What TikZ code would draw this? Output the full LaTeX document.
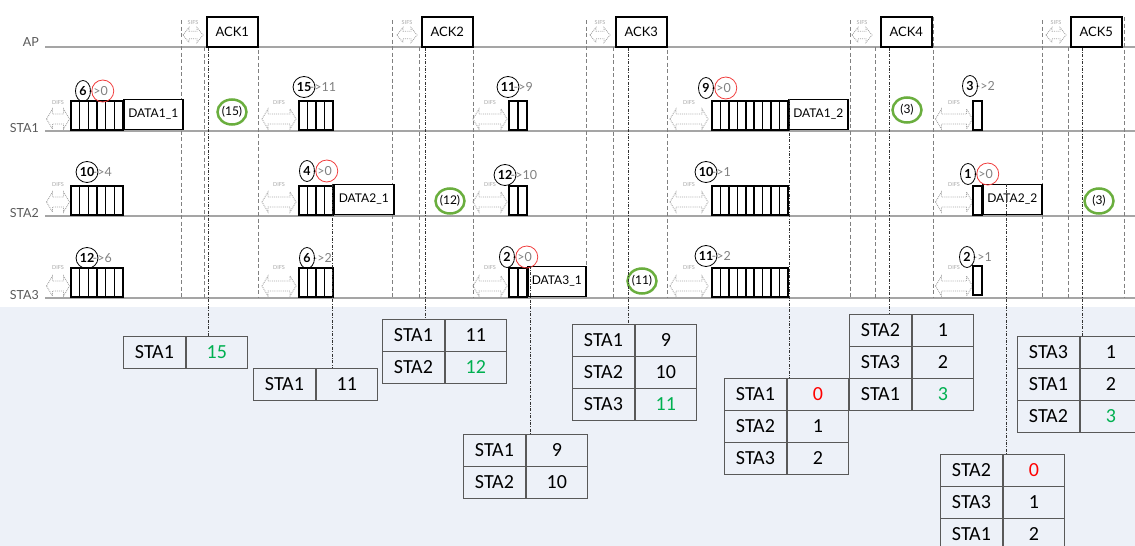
\documentclass[tikz,border=0pt]{standalone}
\usepackage{fontspec}
\setmainfont{Lato}
\newfontfamily\tabfont{Carlito}
\usetikzlibrary{calc,shapes.geometric}

\definecolor{bgblue}{HTML}{EDF1F8}
\definecolor{lanegray}{HTML}{A5A5A5}
\definecolor{lblgray}{HTML}{595959}
\definecolor{markgray}{HTML}{A6A6A6}
\definecolor{guidegray}{HTML}{808080}
\definecolor{nextgray}{HTML}{808080}
\definecolor{ringgreen}{HTML}{6AAE3E}
\definecolor{valgreen}{HTML}{00B050}
\definecolor{valred}{HTML}{FF0000}
\definecolor{ringred}{HTML}{F03C3C}
\definecolor{tabline}{HTML}{595959}

\tikzset{
  lane/.style={draw=lanegray, line width=1.1pt},
  lanelbl/.style={font=\fontsize{12.5}{12.5}\selectfont, text=lblgray, anchor=east, inner sep=0},
  frame/.style={draw=black, line width=1.5pt, fill=white},
  ackbox/.style={frame, minimum width=51, minimum height=30, inner sep=0,
    font=\fontsize{13}{13}\selectfont},
  databox/.style={frame, minimum height=30, inner sep=0, font=\fontsize{12}{12}\selectfont},
  slotbox/.style={draw=black, line width=1.5pt, fill=white},
  cnt/.style={ellipse, draw=black, line width=0.8pt, inner sep=0.5pt, minimum width=15,
    minimum height=21, font=\bfseries\fontsize{12.5}{12.5}\selectfont},
  cntnext/.style={anchor=west, inner sep=0, text=nextgray, font=\fontsize{12.5}{12.5}\selectfont},
  redring/.style={circle, draw=ringred, line width=0.8pt, minimum size=22, inner sep=0},
  greenring/.style={ellipse, draw=ringgreen, line width=2.5pt, minimum width=29,
    minimum height=25, inner sep=0, font=\fontsize{12}{12}\selectfont},
  ifsline/.style={draw=markgray, densely dotted, line width=0.9pt},
  ifstag/.style={text=markgray, font=\fontsize{5.5}{5.5}\selectfont, inner sep=0},
  guide/.style={draw=guidegray, dash pattern=on 4pt off 2.5pt, line width=0.8pt},
  dropline/.style={draw=black!80, dash pattern=on 3pt off 1.5pt on 0.8pt off 1.5pt, line width=0.7pt},
  cell/.style={draw=tabline, line width=0.9pt, fill=bgblue, minimum height=32, inner sep=0,
    font=\tabfont\fontsize{20}{20}\selectfont},
  pics/ifsmark/.style 2 args={code={
    \draw[ifsline] (-#1/2,0) -- (-#1/2+6,-#2/2) -- (-#1/2+6,-#2/4) -- (#1/2-6,-#2/4)
      -- (#1/2-6,-#2/2) -- (#1/2,0) -- (#1/2-6,#2/2) -- (#1/2-6,#2/4)
      -- (-#1/2+6,#2/4) -- (-#1/2+6,#2/2) -- cycle;
  }},
}

% register table: name, x, y of top-left corner, rows label/value/colour
\newcommand\regtable[4]{%
  \foreach \lab/\val/\col [count=\i] in {#4} {
    \node[cell, minimum width=62, anchor=north west] (#1-\i-l) at (#2,{#3+(\i-1)*32}) {\lab};
    \node[cell, minimum width=61, anchor=north west, text=\col] (#1-\i-v) at (#1-\i-l.north east) {\val};
  }}
% run of backoff slots: x start, bottom y, count, slot width
\newcommand\slotrun[4]{%
  \foreach \k in {1,...,#3} {
    \draw[slotbox] ({#1+(\k-1)*#4},#2) rectangle ({#1+\k*#4},{#2-29});
  }}
% backoff counter: name, x, y, start value, remaining text
\newcommand\backoff[5]{%
  \node[cntnext] (#1n) at ($(#2,#3)+(5.5,0)$) {#5};
  \node[cnt] (#1) at (#2,#3) {#4};}
\newcommand\expire[1]{\node[redring] (#1r) at ([xshift=4.5]#1n.center) {};}

\begin{document}
\begin{tikzpicture}[x=1pt, y=-1pt]
\useasboundingbox (0,0) rectangle (1135,546);
\fill[bgblue] (0,307) rectangle (1135,546);

% lanes
\draw[lane] (45,47) -- (1135,47);
\draw[lane] (45,131) -- (1135,131);
\draw[lane] (45,216) -- (1135,216);
\draw[lane] (45,298) -- (1135,298);
\node[lanelbl] (lAP) at (39,42) {AP};
\node[lanelbl] (lS1) at (39,128) {STA1};
\node[lanelbl] (lS2) at (39,213) {STA2};
\node[lanelbl] (lS3) at (39,295) {STA3};

% SIFS / ACK guides
\foreach \sl/\al/\ar in {181/204/258, 392/419/473, 586/613/667, 850/875/933, 1042/1068/1124} {
  \draw[guide] (\sl,20) -- (\sl,298);
  \draw[guide] (\al,47) -- (\al,298);
  \draw[guide] (\ar,17) -- (\ar,298);
}

% registers
\regtable{T1}{123}{336}{STA1/15/valgreen}
\regtable{T2}{253}{368}{STA1/11/black}
\regtable{T3}{382}{319}{STA1/11/black, STA2/12/valgreen}
\regtable{T4}{463}{434}{STA1/9/black, STA2/10/black}
\regtable{T5}{572}{324}{STA1/9/black, STA2/10/black, STA3/11/valgreen}
\regtable{T6}{724}{378}{STA1/0/valred, STA2/1/black, STA3/2/black}
\regtable{T7}{849}{314}{STA2/1/black, STA3/2/black, STA1/3/valgreen}
\regtable{T8}{940}{454}{STA2/0/valred, STA3/1/black, STA1/2/black}
\regtable{T9}{1017}{336}{STA3/1/black, STA1/2/black, STA2/3/valgreen}

% SIFS markers and ACK frames
\foreach \sx/\n in {193/1, 407/2, 600/3, 862/4, 1056/5} {
  \pic at (\sx,35) {ifsmark={20}{15}};
  \node[ifstag] at (\sx,23) {SIFS};
}
\node[ackbox, anchor=north west] (ack1) at (206,16) {ACK1};
\node[ackbox, anchor=north west] (ack2) at (421,16) {ACK2};
\node[ackbox, anchor=north west] (ack3) at (615,16) {ACK3};
\node[ackbox, anchor=north west] (ack4) at (880,16) {ACK4};
\node[ackbox, anchor=north west] (ack5) at (1070,16) {ACK5};

% DIFS markers
\foreach \dx/\dw in {58/23, 279/34, 490/34, 689/38, 954/37} {
  \pic at (\dx,119) {ifsmark={\dw}{20}};
  \node[ifstag] at (\dx,103) {DIFS};
  \pic at (\dx,202) {ifsmark={\dw}{20}};
  \node[ifstag] at (\dx,185) {DIFS};
  \pic at (\dx,286) {ifsmark={\dw}{20}};
  \node[ifstag] at (\dx,268) {DIFS};
}

% STA1
\slotrun{71}{130}{6}{8.67}
\node[databox, minimum width=59, anchor=south west] (d11) at (123,130) {DATA1\_1};
\slotrun{299}{130}{4}{8.5}
\slotrun{509}{130}{2}{9}
\slotrun{712}{130}{9}{8.44}
\node[databox, minimum width=59, anchor=south west] (d12) at (788,130) {DATA1\_2};
\slotrun{973}{130}{1}{9}
\backoff{a1}{83}{91}{6}{->0}\expire{a1}
\backoff{a2}{304}{87}{15}{->11}
\backoff{a3}{508}{87}{11}{->9}
\backoff{a4}{706}{88}{9}{->0}\expire{a4}
\backoff{a5}{970}{86}{3}{->2}

% STA2
\slotrun{71}{215}{6}{8.67}
\slotrun{299}{215}{4}{8.5}
\node[databox, minimum width=60, anchor=south west] (d21) at (333,215) {DATA2\_1};
\slotrun{509}{215}{2}{9}
\slotrun{712}{215}{9}{8.44}
\slotrun{973}{215}{1}{9}
\node[databox, minimum width=59, anchor=south west] (d22) at (982,215) {DATA2\_2};
\backoff{b1}{87}{172}{10}{->4}
\backoff{b2}{307}{171}{4}{->0}\expire{b2}
\backoff{b3}{505}{175}{12}{->10}
\backoff{b4}{706}{172}{10}{->1}
\backoff{b5}{968}{174}{1}{->0}\expire{b5}

% STA3
\slotrun{71}{297}{6}{8.67}
\slotrun{299}{297}{4}{8.5}
\slotrun{509}{297}{2}{9}
\node[databox, minimum width=58, anchor=south west] (d31) at (527,297) {DATA3\_1};
\slotrun{712}{297}{9}{8.44}
\slotrun{973}{295}{1}{9}
\backoff{c1}{87}{258}{12}{->6}
\backoff{c2}{307}{258}{6}{->2}
\backoff{c3}{507}{257}{2}{->0}\expire{c3}
\backoff{c4}{706}{256}{11}{->2}
\backoff{c5}{967}{257}{2}{->1}

% successful-transmission markers
\node[greenring] (g1) at (232,112) {(15)};
\node[greenring] (g2) at (450,201) {(12)};
\node[greenring] (g3) at (642,281) {(11)};
\node[greenring] (g4) at (907,110) {(3)};
\node[greenring] (g5) at (1099,201) {(3)};

% drop lines to the registers
\coordinate (p1) at ([xshift=2]ack1.south west);
\coordinate (p2) at ([xshift=-1]d21.north west);
\coordinate (p3) at ([xshift=4]ack2.south west);
\coordinate (p4) at ([xshift=3]d31.north west);
\coordinate (p5) at ([xshift=13]ack3.south west);
\coordinate (p6) at ([xshift=1]d12.north west);
\coordinate (p7) at ([xshift=9]ack4.south west);
\coordinate (p8) at ([xshift=24]d22.north west);
\coordinate (p9) at ([xshift=12]ack5.south west);
\draw[dropline] (p1) -- (p1 |- T1-1-l.north);
\draw[dropline] (p2) -- (p2 |- T2-1-l.north);
\draw[dropline] (p3) -- (p3 |- T3-1-l.north);
\draw[dropline] (p4) -- (p4 |- T4-1-l.north);
\draw[dropline] (p5) -- (p5 |- T5-1-l.north);
\draw[dropline] (p6) -- (p6 |- T6-1-l.north);
\draw[dropline] (p7) -- (p7 |- T7-1-l.north);
\draw[dropline] (p8) -- (p8 |- T8-1-l.north);
\draw[dropline] (p9) -- (p9 |- T9-1-l.north);
\end{tikzpicture}
\end{document}
